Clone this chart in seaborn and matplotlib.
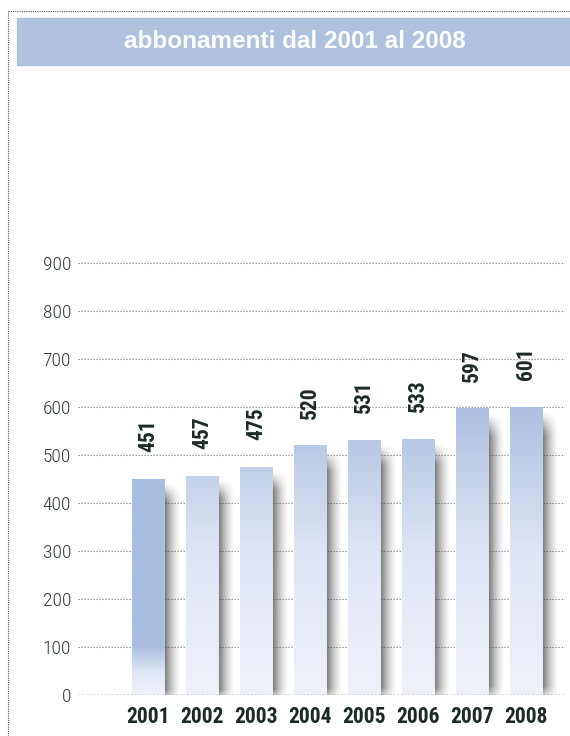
import numpy as np
import pandas as pd
import seaborn as sns
import matplotlib.pyplot as plt
from matplotlib.colors import LinearSegmentedColormap
from matplotlib.lines import Line2D
from matplotlib.patches import Rectangle

# data
anni = ["2001", "2002", "2003", "2004", "2005", "2006", "2007", "2008"]
abbonamenti = [451, 457, 475, 520, 531, 533, 597, 601]
yticks = [0, 100, 200, 300, 400, 500, 600, 700, 800, 900]

df = pd.DataFrame({"anno": anni, "abbonamenti": abbonamenti})

sns.set_style("white")
narrow = ['Liberation Sans Narrow', 'Roboto Condensed', 'DejaVu Sans Condensed', 'DejaVu Sans']
plt.rcParams['font.family'] = narrow

fig = plt.figure(figsize=(5.7, 7.36), dpi=100)
ax = fig.add_axes([78 / 570, 1 - 695 / 736, (565 - 78) / 570, 432 / 736 * (1000 / 900)])

sns.barplot(data=df, x="anno", y="abbonamenti", ax=ax, width=0.6, color="#aabfe0", zorder=3)

bar_cmap = LinearSegmentedColormap.from_list("bar", ["#f0f2fa", "#dde4f3", "#a9bde0"])

# soft shadow texture
nx, ny = 60, 120
sx = np.linspace(0, 1, nx)
sy = np.linspace(0, 1, ny)[:, None]
ax_fall = np.clip(1 - sx, 0, 1) ** 1.5
top_fade = np.clip(sy / 0.08, 0, 1)
bot_fade = np.clip((1 - sy) / 0.05, 0, 1)
shadow = np.zeros((ny, nx, 4))
shadow[..., :3] = 0.28
shadow[..., 3] = 0.92 * ax_fall[None, :] * top_fade * bot_fade

for i, p in enumerate(ax.patches):
    x0, w, h = p.get_x(), p.get_width(), p.get_height()
    ax.imshow(shadow, extent=[x0 + w - 0.05, x0 + w + 0.3, -14, h - 10],
              aspect="auto", zorder=2, interpolation="bilinear", origin="upper")
    if i == 0:
        # first bar stays darker down to near the foot
        ramp = np.clip(np.linspace(4.5, 0, 128), 0, 1).reshape(-1, 1)
    else:
        ramp = np.linspace(h / 620, 0, 128).reshape(-1, 1)
    im = ax.imshow(ramp, extent=[x0, x0 + w, 0, h], aspect="auto", cmap=bar_cmap,
                   vmin=0, vmax=1, zorder=4, interpolation="bilinear")
    im.set_clip_path(p)
    p.set_facecolor("none")
    p.set_edgecolor("none")
    # shadow under the bar foot
    bot = np.zeros((24, 1, 4))
    bot[..., :3] = 0.3
    bot[..., 3] = np.linspace(0.0, 0.55, 24).reshape(-1, 1)
    ax.imshow(bot, extent=[x0 + 0.06, x0 + w + 0.12, -13, 0], aspect="auto", zorder=2,
              interpolation="bilinear")

for i, v in enumerate(abbonamenti):
    ax.text(i, v + 56, str(v), rotation=90, ha="center", va="bottom",
            fontsize=15.5, fontweight="bold", color="#1e2a2a", zorder=5)

ax.set_xlim(-1.3, 7.72)
ax.set_ylim(0, 1000)
ax.set_yticks(yticks)
ax.set_yticklabels([str(t) for t in yticks], fontsize=14, fontweight="light", color="#2e3838")
ax.set_xticks(range(len(anni)))
ax.set_xticklabels(anni, fontsize=15.5, fontweight="bold", color="#1e2a2a")
ax.tick_params(axis="both", length=0, pad=5)
ax.tick_params(axis="x", pad=8)
for t in yticks:
    ax.axhline(t, color="#8a8a8a", lw=0.8, ls=(0, (1.2, 1.5)), zorder=1)
ax.axhline(0, color="#555555", lw=1.0, ls=(0, (1.2, 1.5)), zorder=6)
ax.set_xlabel("")
ax.set_ylabel("")
for s in ax.spines.values():
    s.set_visible(False)

# title band
fig.patches.append(Rectangle((17 / 570, 1 - 65 / 736), 553 / 570, 47 / 736,
                             transform=fig.transFigure, color="#aec2e0", zorder=0))
fig.text(295 / 570, 1 - 42 / 736, "abbonamenti dal 2001 al 2008", ha="center", va="center",
         fontsize=17.5, fontweight="bold", color="white", family=["Liberation Sans", "DejaVu Sans"])

# dotted frame
fig.lines.append(Line2D([8 / 570, 8 / 570], [0, 1 - 11 / 736], transform=fig.transFigure,
                        color="#555555", lw=0.8, ls=(0, (1, 1))))
fig.lines.append(Line2D([8 / 570, 1], [1 - 11 / 736, 1 - 11 / 736], transform=fig.transFigure,
                        color="#555555", lw=0.8, ls=(0, (1, 1))))

fig.savefig("out.png", dpi=100)
